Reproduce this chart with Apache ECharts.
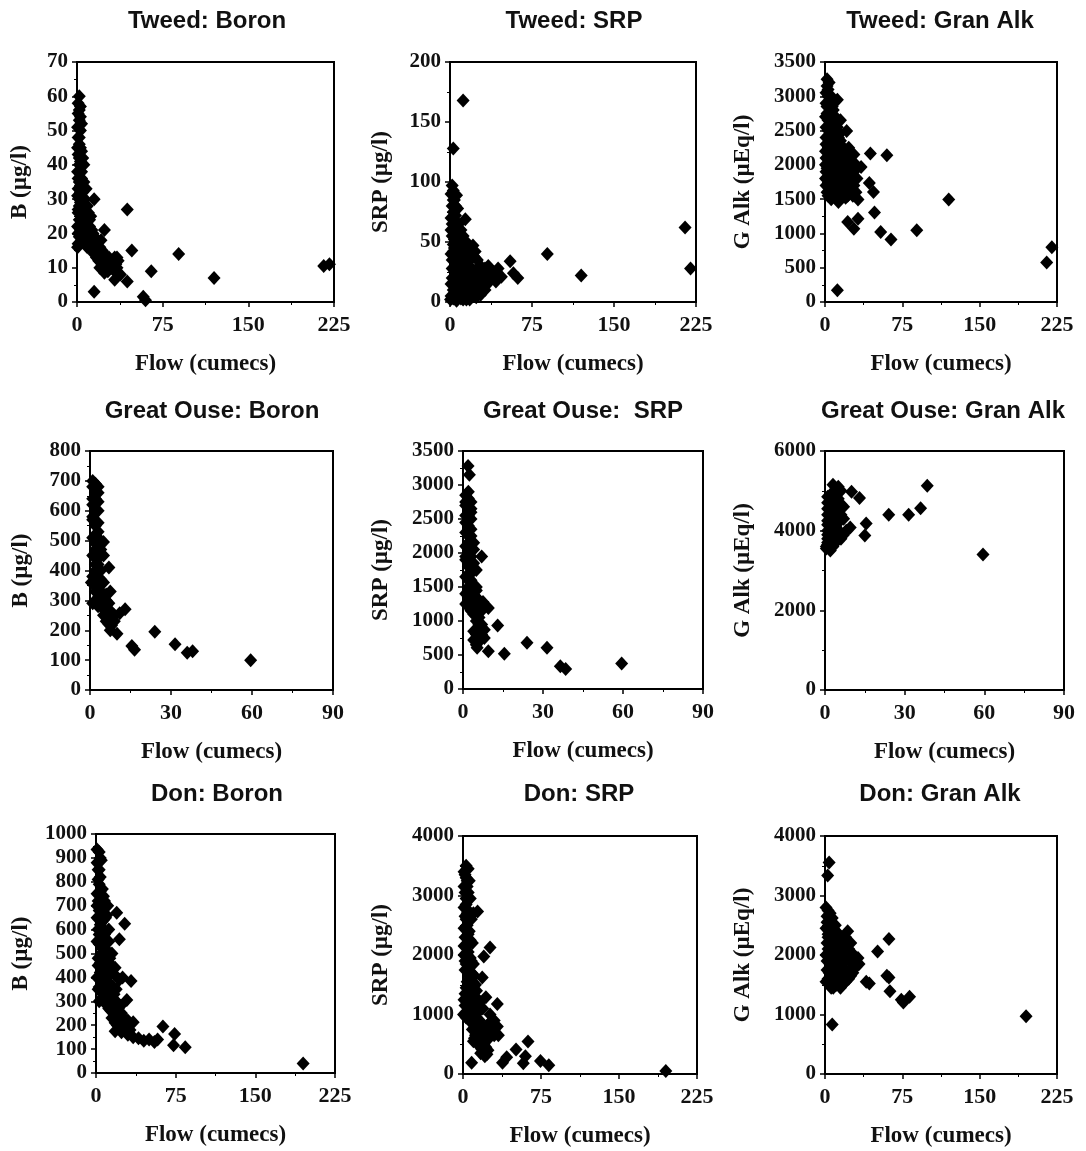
<!DOCTYPE html>
<html>
<head>
<meta charset="utf-8">
<script src="https://cdn.jsdelivr.net/npm/echarts@6/dist/echarts.min.js"></script>
<style>
  html, body { margin: 0; padding: 0; background: #fff; }
  #main { width: 1086px; height: 1151px; }
</style>
</head>
<body>
<div id="main"></div>
<script>
// titles and axis names
var titles = ['Tweed: Boron', 'Tweed: SRP', 'Tweed: Gran Alk',
              'Great Ouse: Boron', 'Great Ouse:  SRP', 'Great Ouse: Gran Alk',
              'Don: Boron', 'Don: SRP', 'Don: Gran Alk'];
var yNames = ['B (µg/l)', 'SRP (µg/l)', 'G Alk (µEq/l)',
              'B (µg/l)', 'SRP (µg/l)', 'G Alk (µEq/l)',
              'B (µg/l)', 'SRP (µg/l)', 'G Alk (µEq/l)'];
var xName = 'Flow (cumecs)';

// axis ranges [min, max, interval]
var xRanges = [[0, 225, 75], [0, 225, 75], [0, 225, 75],
               [0, 90, 30], [0, 90, 30], [0, 90, 30],
               [0, 225, 75], [0, 225, 75], [0, 225, 75]];
var yRanges = [[0, 70, 10], [0, 200, 50], [0, 3500, 500],
               [0, 800, 100], [0, 3500, 500], [0, 6000, 2000],
               [0, 1000, 100], [0, 4000, 1000], [0, 4000, 1000]];

// [flow, value]
var tweedBoron = [
  [2,60],[1,58],[3,57],[1,55],[2,53],[0.5,51],[3,50],[1,48],[2,46],[4,44],[1,43],[3,41],
  [2,40],[0.5,38],[4,36],[2,35],[1,33],[3,32],[5,30],[2,28],[1,27],[4,25],[2,24],[0.5,22],
  [3,21],[1,20],[2,19],[4,18],[1,17],[0.5,16],[6,35],[8,33],[7,30],[9,28],[10,26],[6,27],
  [12,25],[8,23],[11,22],[13,21],[14,20],[15,19],[16,17],[18,18],[20,16],[22,15],[24,14],
  [26,13],[28,13],[30,12],[32,12],[34,11],[36,12],[30,10],[27,9],[24,8.5],[22,10],[20,13],
  [18,14],[16,15],[25,11],[33,9],[28,11],[35,13],[13,18],[12,16],[10,17],[38,8],[5,22],
  [7,20],[9,19],[15,30],[44,27],[24,21],[48,15],[89,14],[65,9],[120,7],[216,10.5],[221,11],
  [44,6],[33,6.5],[15,3],[58,1.5],[60,0.5],
  [0.5,45],[2,42],[3,38],[1,36],[3,34],[0.5,31],[2,30],[3,29],[1,26],[3,24],[2,22],[4,20],
  [6,24],[7,22],[5,18],[6,19],[8,18],[9,16],[10,20],[11,18],[12,20],[14,17],[13,15],[15,14],
  [17,13],[19,12],[21,12],[23,11],[25,9],[27,12],[29,10],[31,11],[33,13],[35,10],[23,13],
  [20,10],[21,18],[17,16],[19,15],[11,24],[9,26],[7,28],[5,32],[4,38],[5,42],[6,40],[3,45],
  [2,48],[4,52],[3,54],[2,56]
];
var tweedSrp = [
  [12,168],[3,128],[215,62],[220,28],[89,40],[120,22],[55,34],[62,20],[58,24],[44,28],[47,21],
  [2,97],[3,93],[6,89],[4,85],[2,80],[3,75],[1,70],[5,72],[14,69],[8,65],[10,60],[4,62],[2,55],
  [6,50],[12,55],[15,50],[21,47],[9,45],[3,42],[18,40],[22,38],[25,35],[28,30],[30,27],[33,25],
  [35,22],[38,20],[30,15],[28,12],[32,10],[25,8],[20,5],[15,2],[10,3],[5,5],[3,10],[1,15],
  [2,20],[4,25],[6,30],[8,35],[12,30],[15,25],[18,20],[20,15],[22,25],[25,20],[10,15],[12,10],
  [8,20],[14,38],[16,33],[2,35],[1,5],[0.5,2],[40,25],[42,17],[35,30],[17,10],[24,14],[6,15],
  [4,45],[10,40],[1,60],[7,78],
  [1,90],[3,85],[5,80],[2,65],[6,58],[8,55],[4,52],[11,50],[13,45],[16,44],[19,43],[23,42],
  [7,40],[11,35],[13,32],[17,30],[20,28],[24,27],[27,25],[31,22],[34,18],[37,24],[26,15],
  [23,10],[19,8],[14,6],[9,8],[6,10],[4,18],[2,28],[1,40],[3,48],[7,45],[9,25],[11,20],[14,15],
  [16,20],[21,20],[29,20],[32,28],[36,17],[12,2],[6,1],[3,3],[18,2],[24,4],[28,6],[33,14]
];
var tweedAlk = [
  [12,170],[215,575],[220,800],[120,1495],[89,1045],[64,910],[54,1020],[48,1305],[47,1605],
  [43,1735],[44,2165],[60,2140],[35,1970],[32,1495],[32,1215],[22,1165],[28,1070],[21,2495],
  [25,2130],[13,1460],[2,3250],[4,3200],[3,3100],[1,3050],[12,2950],[5,2900],[2,2850],[8,2800],
  [4,2750],[10,2700],[15,2650],[3,2650],[6,2600],[1,2550],[12,2550],[8,2450],[3,2400],[15,2350],
  [5,2300],[10,2250],[18,2250],[2,2200],[7,2150],[12,2100],[20,2050],[4,2000],[9,1950],[15,1950],
  [22,1900],[18,1850],[3,1800],[25,1800],[11,1750],[20,1700],[28,1700],[5,1650],[16,1620],
  [25,1600],[8,1580],[14,1550],[20,1520],[1,1700],[2,1600],[1,2900],[0.5,2700],[1,2400],
  [0.5,2200],[0.5,2000],[1,1900],[28,1900],[30,2000],[26,1950],[17,2150],[10,1800],[24,1650],
  [6,3000],[9,2600],[14,2450],[16,2000],[19,1950],[23,2250],[27,1850],
  [2,3150],[3,3000],[5,2950],[7,2850],[2,2750],[4,2650],[7,2550],[11,2500],[13,2400],[5,2450],
  [9,2350],[3,2300],[6,2250],[13,2250],[16,2150],[20,2150],[24,2050],[1,2100],[6,2050],[11,2000],
  [14,1850],[17,1900],[21,1800],[23,1750],[26,1700],[7,1850],[5,1750],[9,1700],[12,1650],
  [18,1600],[22,1550],[3,1550],[6,1500],[10,1600],[27,1550],[30,1600],[16,1700],[19,1800],
  [24,2000],[28,2150],[31,1800],[8,2000],[2,1950],[0.5,1800],[3,2500],[1,2300]
];
var ouseBoron = [
  [59.5,100],[38,130],[36,125],[31.5,153],[24,195],[15.5,147],[16.5,135],[13,270],[10,188],
  [11,257],[8,217],[7.5,200],[7,410],[7.5,330],[5,495],[2,690],[3,680],[1,700],[2,660],[1,620],
  [2,600],[1,640],[3,630],[2,550],[3,530],[1,510],[4,500],[2,470],[1,450],[3,440],[2,420],
  [4,400],[1,380],[3,370],[5,360],[2,350],[4,330],[6,320],[3,300],[1,290],[5,290],[4,280],
  [6,270],[7,260],[5,250],[8,240],[6,230],[9,230],[4,300],[3,310],[2,400],[0.5,360],[2,520],
  [1,580],[3,460],
  [1,680],[3,660],[2,640],[3,600],[1,570],[3,560],[2,490],[4,470],[3,420],[5,450],[4,370],
  [2,330],[5,320],[3,280],[6,300],[7,290],[8,260],[6,250],[9,250],[7,220]
];
var ouseSrp = [
  [59.5,375],[38.5,295],[36.5,333],[31.5,605],[24,680],[15.5,520],[9.5,555],[13,935],[9.5,1190],
  [7.5,1280],[6,1150],[7,1950],[7,800],[8,870],[5,750],[4,720],[5.3,605],[1.9,3280],[2.4,3150],
  [1,2850],[2,2800],[3,2750],[1,2700],[2,2650],[3,2600],[1,2550],[3,2500],[2,2400],[1,2300],
  [3,2250],[2,2150],[1,2100],[4,2050],[2,2000],[3,1950],[1,1900],[4,1850],[2,1800],[3,1700],
  [1,1650],[2,1600],[4,1500],[5,1450],[1,1400],[2,1350],[3,1300],[1,1250],[4,1200],[5,1100],
  [3,1150],[6,1050],[5,1000],[7,950],[6,900],[4,850],[2,1500],[3,1550],[6,1250],[5,1350],
  [2,2900],[1,2750],[3,2650],[2,2550],[1,2450],[3,2350],[2,2250],[4,2150],[3,2050],[1,1950],
  [2,1850],[5,1750],[3,1600],[5,1500],[2,1450],[4,1350],[6,1300],[3,1250],[7,1150],[4,1100],
  [6,950],[7,850],[5,800],[6,700],[8,750],[5,650]
];
var ouseAlk = [
  [59.5,3400],[38.5,5130],[36,4560],[31.5,4400],[24,4400],[15.5,4180],[15,3880],[13,4820],
  [10,4980],[9.5,4080],[6,3950],[8,4000],[5,5100],[3,5150],[6,5000],[4,4900],[7,4600],
  [0.5,3550],[1,3650],[2,3700],[3,3750],[4,3700],[1,3800],[2,3900],[1,4000],[3,4050],[2,4150],
  [1,4250],[3,4300],[4,4400],[2,4450],[5,4500],[1,4550],[3,4600],[6,4650],[2,4700],[4,4750],
  [1,4850],[5,4800],[6,4400],[7,4300],[5,4200],[4,4100],[3,3900],[0.5,3600],[2,3500],[6,3800],
  [1,3700],[2,3800],[1,3900],[3,4000],[2,4050],[1,4150],[3,4200],[2,4300],[1,4400],[3,4450],
  [4,4550],[2,4600],[1,4700],[3,4800],[4,5000],[2,4900],[5,4600],[6,4300],[5,4000],[7,3900],
  [4,3800],[3,3600]
];
var donBoron = [
  [195,40],[84,108],[73,116],[74,163],[63,195],[58,140],[55,130],[50,140],[45,135],[40,145],
  [35,150],[30,160],[35,212],[33,385],[29,305],[27,625],[22,560],[19.5,670],[15,500],[18,440],
  [20,400],[22,390],[25,400],[18,175],[1,935],[3,925],[5,890],[2,850],[4,820],[3,790],[6,770],
  [1,750],[8,720],[5,700],[3,680],[10,660],[7,640],[4,620],[2,600],[8,580],[6,560],[3,540],
  [9,520],[5,500],[2,480],[11,460],[7,440],[4,420],[1,400],[12,380],[8,360],[5,340],[3,300],
  [10,320],[14,300],[16,280],[12,270],[18,260],[20,240],[22,220],[15,230],[25,200],[28,190],
  [24,250],[19,300],[13,350],[6,380],[9,410],[14,420],[15,450],[10,500],[12,550],[7,600],
  [9,650],[4,700],[11,700],[2,720],[1,650],[1,550],[2,450],[2,350],
  [1,880],[2,810],[4,760],[1,700],[2,650],[5,630],[3,580],[6,520],[4,460],[8,470],[10,430],
  [7,380],[11,350],[3,360],[5,310],[9,290],[13,320],[17,330],[21,270],[23,280],[26,230],
  [18,210],[20,200],[30,220],[14,260],[7,330],[9,560],[6,680],[7,740],[3,850],[4,900],[12,600],
  [13,480],[16,360],[19,350],[24,170],[32,180],[12,410]
];
var donSrp = [
  [195,50],[82.5,145],[74.5,220],[62.5,545],[60,300],[58,180],[51,410],[42,280],[38,190],
  [23,330],[30,650],[33,800],[28,900],[25,850],[22,780],[33,1175],[26,2125],[20,1975],[14,2730],
  [18.5,1620],[22,1290],[8.3,190],[3,3500],[5,3450],[2,3350],[6,3250],[4,3150],[2,3050],[7,2950],
  [3,2850],[5,2750],[2,2650],[8,2600],[4,2500],[6,2400],[2,2300],[9,2200],[3,2150],[5,2050],
  [7,1950],[2,1900],[10,1850],[4,1750],[8,1700],[6,1600],[12,1500],[3,1450],[9,1400],[5,1300],
  [14,1250],[7,1200],[2,1150],[11,1100],[4,1050],[8,1000],[13,950],[16,900],[10,850],[18,800],
  [15,750],[20,700],[12,650],[17,600],[19,550],[14,500],[10,550],[22,450],[18,420],[25,600],
  [28,700],[1,1250],[0.5,1000],[6,1800],[4,2700],[1,2000],[15,1050],[12,1300],
  [1,3400],[3,3300],[4,3250],[1,3150],[5,3050],[3,2950],[1,2800],[6,2700],[10,2700],[3,2600],
  [1,2450],[5,2350],[7,2250],[1,2150],[4,2000],[8,1900],[2,1750],[6,1650],[9,1550],[11,1650],
  [4,1550],[2,1350],[7,1400],[10,1250],[5,1150],[3,950],[6,900],[9,750],[12,800],[14,650],
  [11,600],[16,550],[20,500],[24,400],[17,350],[21,300],[24,750],[27,800],[31,700],[34,650],
  [30,900],[26,1000],[19,1100],[16,1200],[13,1400],[8,1250],[5,1500],[3,1850]
];
var donAlk = [
  [195,970],[82,1300],[76,1200],[74,1250],[63,1390],[60,1650],[62,1620],[62,2270],[51,2060],
  [40,1550],[43,1520],[30,1800],[32,1950],[28,2000],[25,2200],[22,2400],[20,2300],[4,3555],
  [2.6,3335],[7,830],[6,1450],[15,1450],[20,1550],[25,1650],[1,2800],[3,2750],[5,2700],[2,2650],
  [7,2620],[4,2550],[10,2500],[1,2450],[6,2420],[12,2380],[3,2350],[8,2300],[15,2250],[2,2200],
  [5,2150],[11,2100],[18,2050],[1,2000],[7,1980],[14,1950],[4,1900],[20,1900],[9,1850],[16,1800],
  [2,1750],[12,1750],[6,1700],[19,1700],[10,1650],[3,1600],[14,1600],[8,1550],[1,1550],[17,1500],
  [22,1700],[24,1900],[13,2150],[9,2050],[5,1850],[26,2000],[18,2200],[11,1900],
  [2,2550],[4,2400],[6,2300],[9,2200],[11,2300],[13,2350],[16,2100],[20,2150],[23,2100],[3,2100],
  [6,2000],[9,1950],[12,2000],[15,2050],[18,1900],[21,1950],[24,1750],[27,1850],[30,1900],
  [33,1850],[2,1900],[4,1700],[7,1800],[10,1750],[13,1650],[16,1700],[19,1600],[23,1600],
  [27,1700],[5,1550],[8,1450],[11,1500],[14,1500],[3,2300],[5,2500],[8,2500]
];
var panelData = [tweedBoron, tweedSrp, tweedAlk, ouseBoron, ouseSrp, ouseAlk, donBoron, donSrp, donAlk];

// plot boxes [left, top, width, height] and y-name gap
var boxes = [[77, 62, 257, 240], [450, 62, 246, 240], [825, 62, 232, 240],
             [90, 451, 243, 239], [463, 451, 240, 238], [825, 451, 239, 239],
             [96, 834, 239, 239], [463, 836, 234, 238], [825, 836, 232, 238]];
var yNameGaps = [45, 57, 70, 57, 70, 70, 63, 70, 70];
var titlePos = [[207, 21], [574, 21], [940, 21], [212, 411], [583, 411], [943, 411],
                [217, 794], [579, 794], [940, 794]];

var SERIF = '"Liberation Serif", "Times New Roman", serif';
var SANS = '"Liberation Sans", Arial, sans-serif';
var INK = '#111';

function plain(v) { return String(v); }

var grids = [], xAxes = [], yAxes = [], series = [], graphics = [];
panelData.forEach(function (data, i) {
    var b = boxes[i];
    grids.push({
        left: b[0], top: b[1], width: b[2], height: b[3],
        show: true, borderColor: '#000', borderWidth: 2, backgroundColor: 'transparent'
    });
    xAxes.push({
        type: 'value', gridIndex: i,
        min: xRanges[i][0], max: xRanges[i][1], interval: xRanges[i][2],
        name: xName, nameLocation: 'middle', nameGap: 51,
        nameTextStyle: {fontFamily: SERIF, fontWeight: 'bold', fontSize: 23, color: INK},
        axisLine: {lineStyle: {color: '#000', width: 2}},
        axisTick: {inside: false, length: 5, lineStyle: {color: '#000', width: 1.5}},
        minorTick: {show: true, splitNumber: 2, length: 3, lineStyle: {color: '#000', width: 1}},
        splitLine: {show: false},
        axisLabel: {fontFamily: SERIF, fontWeight: 'bold', fontSize: 22, color: INK, margin: 12, formatter: plain}
    });
    yAxes.push({
        type: 'value', gridIndex: i,
        min: yRanges[i][0], max: yRanges[i][1], interval: yRanges[i][2],
        name: yNames[i], nameLocation: 'middle', nameGap: yNameGaps[i], nameRotate: 90,
        nameTextStyle: {fontFamily: SERIF, fontWeight: 'bold', fontSize: 23, color: INK},
        axisLine: {lineStyle: {color: '#000', width: 2}},
        axisTick: {inside: false, length: 5, lineStyle: {color: '#000', width: 1.5}},
        minorTick: {show: true, splitNumber: 2, length: 3, lineStyle: {color: '#000', width: 1}},
        splitLine: {show: false},
        axisLabel: {fontFamily: SERIF, fontWeight: 'bold', fontSize: 21, color: INK, margin: 9, formatter: plain}
    });
    series.push({
        type: 'scatter', xAxisIndex: i, yAxisIndex: i,
        symbol: 'diamond', symbolSize: [13, 14],
        itemStyle: {color: '#000', opacity: 1},
        data: data, silent: true, animation: false
    });
    graphics.push({
        type: 'text', x: titlePos[i][0], y: titlePos[i][1],
        style: {
            text: titles[i], align: 'center', verticalAlign: 'middle',
            font: 'bold 24px ' + SANS, fill: INK
        }
    });
});

var chart = echarts.init(document.getElementById('main'), null, {renderer: 'canvas'});
chart.setOption({
    backgroundColor: '#fff',
    animation: false,
    grid: grids,
    xAxis: xAxes,
    yAxis: yAxes,
    series: series,
    graphic: graphics
});
</script>
</body>
</html>
